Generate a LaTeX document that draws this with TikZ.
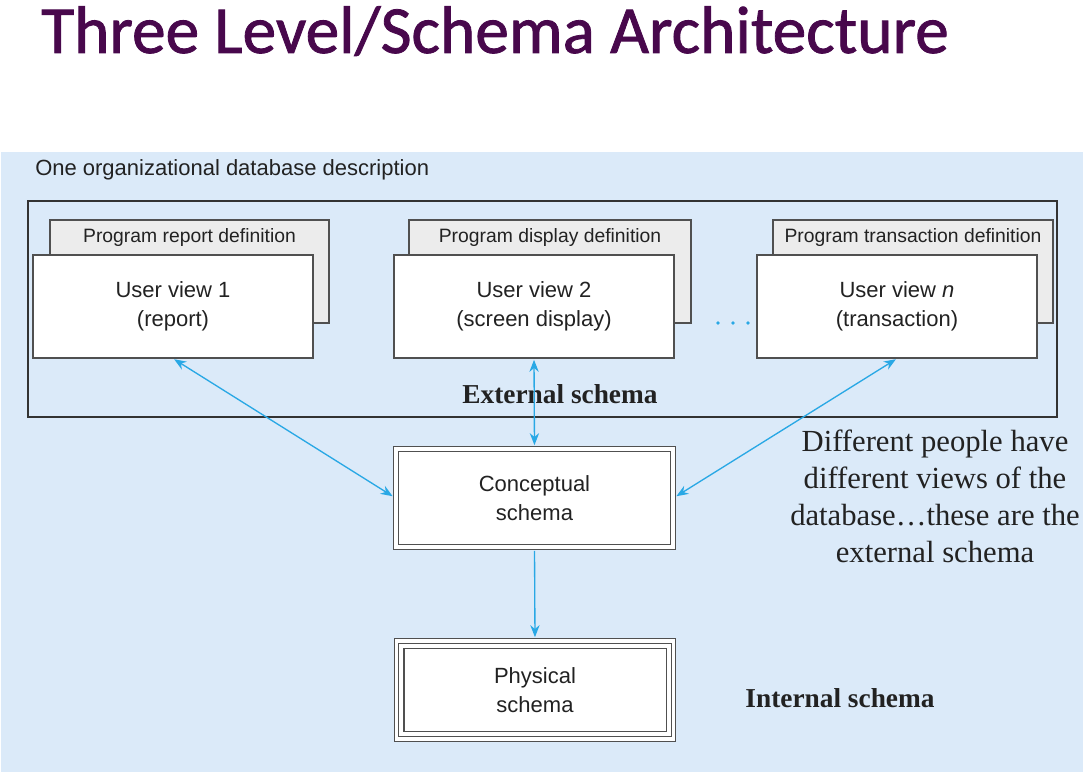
\documentclass[tikz,border=0pt]{standalone}
\usepackage{fontspec}
\setmainfont{Liberation Serif}
\setsansfont{Liberation Sans}
\newfontfamily\titlefont[FakeBold=1.2]{Carlito}
\usetikzlibrary{arrows.meta,calc}

\definecolor{bgblue}{RGB}{219,234,249}
\definecolor{linkblue}{RGB}{41,168,229}
\definecolor{framegrey}{RGB}{80,80,80}
\definecolor{backgrey}{RGB}{236,236,236}
\definecolor{titlepurple}{RGB}{72,8,76}
\definecolor{inktext}{RGB}{34,34,34}

\tikzset{
  viewbox/.style={draw=framegrey, line width=0.8pt, fill=white, minimum width=210pt, minimum height=77.25pt, inner sep=0pt, align=center, text=inktext, font=\sffamily\fontsize{16.5}{21.75}\selectfont},
  progbox/.style={draw=framegrey, line width=0.8pt, fill=backgrey},
  proglabel/.style={inner sep=0.75pt, text=inktext, font=\sffamily\fontsize{14.5}{17}\selectfont},
  schemabox/.style={draw=framegrey, double=white, double distance=2.8pt, line width=0.8pt, fill=white, minimum width=207.75pt, minimum height=73.5pt, inner sep=0pt, align=center, text=inktext, font=\sffamily\fontsize{16.5}{21.75}\selectfont},
  link/.style={draw=linkblue, line width=1pt, >={Stealth[length=9pt,width=7pt]}},
  boldlabel/.style={inner sep=0.75pt, text=inktext, font=\bfseries\fontsize{20.5}{24}\selectfont},
  titletext/.style={inner sep=0pt, anchor=base, font=\titlefont\fontsize{50.5}{56}\selectfont}
}

\begin{document}
\begin{tikzpicture}[x=0.75pt,y=0.75pt,yscale=-1,xscale=1]
\useasboundingbox (0,0) rectangle (1085,773);

%Title
\node [titletext, text=titlepurple] (title) at (495,53) {Three Level/Schema Architecture};

%Shape: Rectangle [background]
\fill [bgblue] (1,152) rectangle (1083,772);
% Text Node
\node [anchor=west, inner sep=0.75pt, text=inktext, font=\sffamily\fontsize{16.5}{20}\selectfont] (orgdb) at (34,170) {One organizational database description};

%Shape: Rectangle [external frame]
\draw [line width=0.8pt, draw=black!80] (28,201) rectangle (1057,417);

%Shape: Rectangle [program definitions]
\draw [progbox] (50,220) rectangle (329,323);
\draw [progbox] (409,220) rectangle (691,323);
\draw [progbox] (773,220) rectangle (1053,323);
% Text Node
\node [proglabel] (prog1) at (189.5,238) {Program report definition};
\node [proglabel] (prog2) at (550,238) {Program display definition};
\node [proglabel] (progn) at (913,238) {Program transaction definition};

%User views
\node [viewbox] (uv1) at (173,306.5) {User view 1\\(report)};
\node [viewbox] (uv2) at (534,306.5) {User view 2\\(screen display)};
\node [viewbox] (uvn) at (897,306.5) {User view \textit{n}\\(transaction)};

%Dots
\fill [linkblue] (718,323) circle (1.8);
\fill [linkblue] (733,323) circle (1.8);
\fill [linkblue] (748,323) circle (1.8);

% Text Node
\node [boldlabel] (external) at (560,394) {External schema};

%Schemas
\node [schemabox] (concept) at (534.5,498) {Conceptual\\schema};
\node [schemabox] (phys) at (535,690) {Physical\\schema};
\draw [line width=0.8pt, draw=framegrey] ($(phys.north west)+(8,8)$) rectangle ($(phys.south east)+(-8,-8)$);

%Straight Lines
\draw [link, <->, shorten >=2.5pt, shorten <=1pt] (uv1.south) -- (concept.west);
\draw [link, <->, shorten >=2.5pt, shorten <=1pt] (uv2.south) -- (concept.north);
\draw [link, <->, shorten >=2.5pt, shorten <=1pt] (uvn.south) -- (concept.east);
\draw [link, ->, shorten >=2.5pt, shorten <=2.5pt] (concept.south) -- (phys.north);

% Text Node
\node [inner sep=0.75pt, align=center, text=inktext, font=\rmfamily\fontsize{23}{27.75}\selectfont] (note) at (935,496) {Different people have\\different views of the\\database…these are the\\external schema};
% Text Node
\node [boldlabel] (internal) at (840,698) {Internal schema};

\end{tikzpicture}
\end{document}
